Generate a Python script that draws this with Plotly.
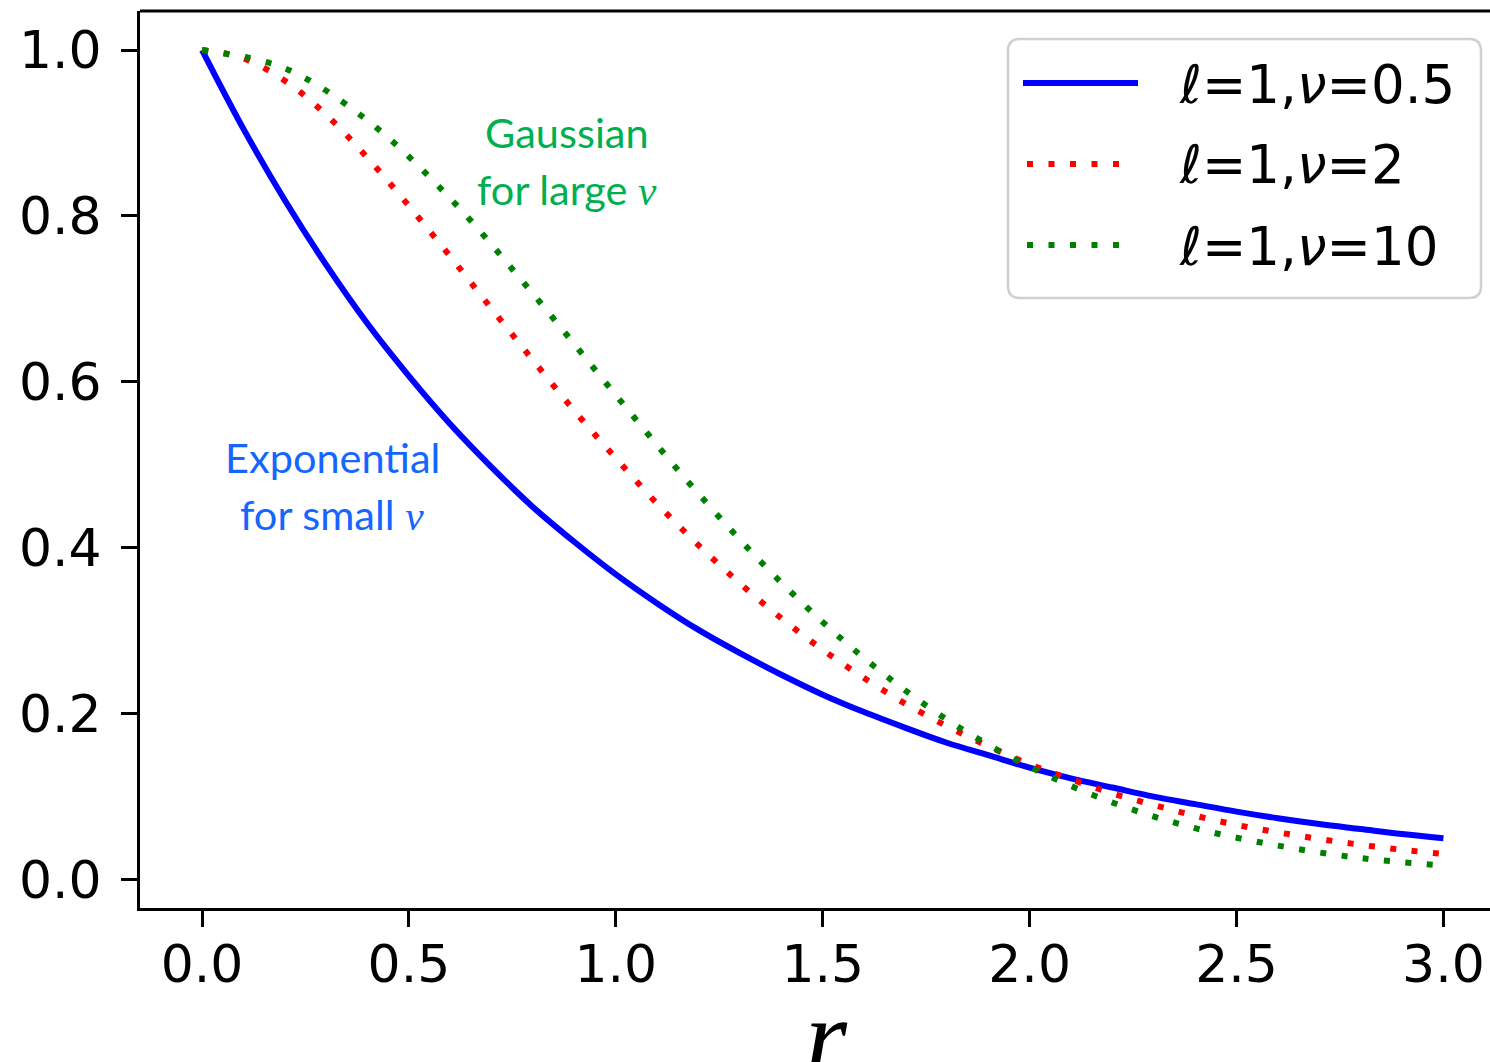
import plotly.graph_objects as go

# ---- data ----
r_fine = [0.0, 0.1, 0.2, 0.3, 0.4, 0.5, 0.6, 0.7, 0.8, 0.9, 1.0,
          1.1, 1.2, 1.3, 1.4, 1.5, 1.6, 1.7, 1.8, 1.9, 2.0,
          2.1, 2.2, 2.3, 2.4, 2.5, 2.6, 2.7, 2.8, 2.9, 3.0]
k_nu05 = [1.000, 0.905, 0.819, 0.741, 0.670, 0.607, 0.549, 0.497, 0.449, 0.407, 0.368,
          0.333, 0.301, 0.273, 0.247, 0.223, 0.202, 0.183, 0.165, 0.150, 0.135,
          0.122, 0.111, 0.100, 0.091, 0.082, 0.074, 0.067, 0.061, 0.055, 0.050]
k_nu2 = [1.000, 0.990, 0.963, 0.922, 0.870, 0.812, 0.751, 0.688, 0.626, 0.565, 0.508,
         0.453, 0.403, 0.357, 0.315, 0.277, 0.243, 0.212, 0.185, 0.161, 0.139,
         0.121, 0.104, 0.090, 0.077, 0.066, 0.057, 0.049, 0.042, 0.036, 0.031]
r_coarse = [0.0, 0.2, 0.4, 0.6, 0.8, 1.0, 1.2, 1.4, 1.6, 1.8, 2.0, 2.2, 2.4, 2.6, 2.8, 3.0]
k_nu10 = [1.000, 0.978, 0.915, 0.821, 0.706, 0.584, 0.465, 0.358, 0.267, 0.193, 0.136,
          0.093, 0.062, 0.041, 0.026, 0.017]

series_labels = ["<i>ℓ</i>=1,<i>ν</i>=0.5", "<i>ℓ</i>=1,<i>ν</i>=2", "<i>ℓ</i>=1,<i>ν</i>=10"]
x_ticks = [0.0, 0.5, 1.0, 1.5, 2.0, 2.5, 3.0]
x_ticktext = ["0.0", "0.5", "1.0", "1.5", "2.0", "2.5", "3.0"]
y_ticks = [0.0, 0.2, 0.4, 0.6, 0.8, 1.0]
y_ticktext = ["0.0", "0.2", "0.4", "0.6", "0.8", "1.0"]

# ---- styling ----
W, H = 1490, 1062
ML, MR, MT, MB = 140, 0, 11, 154
BLUE, RED, GREEN = "#0000ff", "#ff0000", "#008000"
DOT = "6px,15.5px"
TICKFONT = dict(family="DejaVu Sans", size=52, color="black")
NU = '<span style="font-family:Liberation Serif"><i>ν</i></span>'


def px(x):
    return (x - ML) / (W - ML - MR)


def py(y):
    return (H - MB - y) / (H - MB - MT)


fig = go.Figure()
fig.add_trace(go.Scatter(x=r_fine, y=k_nu05, mode="lines", name=series_labels[0],
                         line=dict(color=BLUE, width=6, shape="spline"), showlegend=False))
fig.add_trace(go.Scatter(x=r_fine, y=k_nu2, mode="lines", name=series_labels[1],
                         line=dict(color=RED, width=6, dash=DOT, shape="spline"),
                         showlegend=False))
fig.add_trace(go.Scatter(x=r_coarse, y=k_nu10, mode="lines", name=series_labels[2],
                         line=dict(color=GREEN, width=6, dash=DOT, shape="spline"),
                         showlegend=False))

shapes = []
annotations = []

# top frame line
shapes.append(dict(type="line", xref="paper", yref="paper", x0=0, x1=1, y0=1, y1=1,
                   line=dict(color="black", width=3)))

# legend box (rounded)
x0, x1, y0, y1 = px(1008), px(1481), py(298), py(39)
rx, ry = 12 / (W - ML - MR), 12 / (H - MB - MT)
path = (f"M{x0+rx},{y1} L{x1-rx},{y1} Q{x1},{y1} {x1},{y1-ry} "
        f"L{x1},{y0+ry} Q{x1},{y0} {x1-rx},{y0} L{x0+rx},{y0} Q{x0},{y0} {x0},{y0+ry} "
        f"L{x0},{y1-ry} Q{x0},{y1} {x0+rx},{y1} Z")
shapes.append(dict(type="path", xref="paper", yref="paper", path=path,
                   line=dict(color="#d0d0d0", width=2.5), fillcolor="rgba(255,255,255,0.85)"))

legend_rows = [(83, BLUE, "solid", 1023, 1138), (164, RED, DOT, 1027, 1124), (245, GREEN, DOT, 1027, 1124)]
for (yy, col, dash, xa, xb), lab in zip(legend_rows, series_labels):
    shapes.append(dict(type="line", xref="paper", yref="paper", x0=px(xa), x1=px(xb),
                       y0=py(yy), y1=py(yy), line=dict(color=col, width=6, dash=dash)))
    annotations.append(dict(xref="paper", yref="paper", x=px(1177), y=py(yy + 1),
                            xanchor="left", yanchor="middle", showarrow=False, text=lab,
                            font=dict(family="DejaVu Sans", size=53, color="black")))

# text callouts
CALLOUT = "Lato"
CS = 41.5
annotations += [
    dict(xref="paper", yref="paper", x=px(567), y=py(132), text="Gaussian",
         font=dict(family=CALLOUT, size=CS, color="#00b050")),
    dict(xref="paper", yref="paper", x=px(567), y=py(189), text="for large " + NU,
         font=dict(family=CALLOUT, size=CS, color="#00b050")),
    dict(xref="paper", yref="paper", x=px(332), y=py(457), text="Exponential",
         font=dict(family=CALLOUT, size=CS, color="#1466ff")),
    dict(xref="paper", yref="paper", x=px(332), y=py(514), text="for small " + NU,
         font=dict(family=CALLOUT, size=CS, color="#1466ff")),
]
for a in annotations[-4:]:
    a.update(xanchor="center", yanchor="middle", showarrow=False)

# x-axis label
annotations.append(dict(xref="paper", yref="paper", x=px(826), y=py(975), xanchor="center",
                        yanchor="top", showarrow=False, text="<i>r</i>",
                        font=dict(family="Liberation Serif", size=108, color="black")))

axis_common = dict(showgrid=False, zeroline=False, showline=True, linecolor="black",
                   linewidth=3, ticks="outside", ticklen=16, tickwidth=3, tickcolor="black",
                   tickfont=TICKFONT)

fig.update_layout(
    width=W, height=H,
    margin=dict(l=ML, r=MR, t=MT, b=MB, pad=0),
    plot_bgcolor="white", paper_bgcolor="white",
    xaxis=dict(range=[-0.15, 3.1126], tickvals=x_ticks, ticktext=x_ticktext,
               ticklabelstandoff=-7, **axis_common),
    yaxis=dict(range=[-0.0342, 1.0471], tickvals=y_ticks, ticktext=y_ticktext,
               ticklabelstandoff=9, **axis_common),
    shapes=shapes,
    annotations=annotations,
    showlegend=False,
)

fig.write_html("out.html")
